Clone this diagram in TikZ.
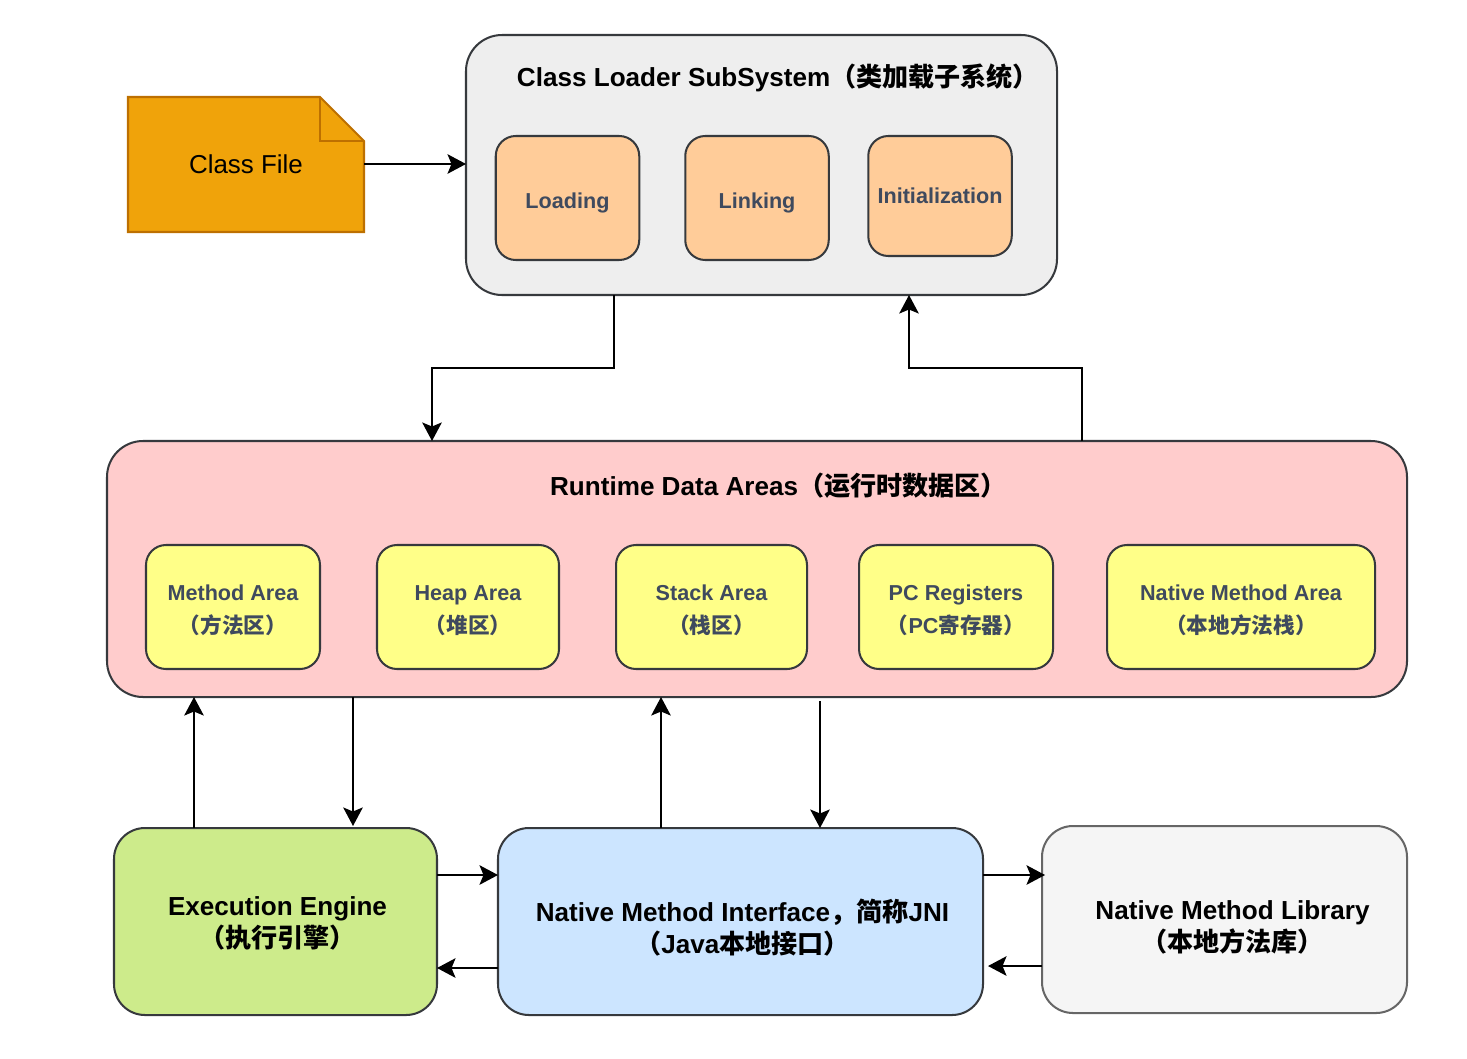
\documentclass[tikz,border=0pt]{standalone}
\usepackage{fontspec}
\setmainfont{Liberation Sans}
\newfontfamily\cjk{Noto Sans CJK SC}
\newcommand{\zh}[1]{{\cjk #1}}
\newcommand{\arealines}[2]{\rule{0pt}{12.2pt}#1\\[.8pt]#2}
\usepackage{xcolor}
\definecolor{ink}{HTML}{36393D}
\definecolor{slatetext}{HTML}{3F4A5E}
\definecolor{paleash}{HTML}{EEEEEE}
\definecolor{peach}{HTML}{FFCC99}
\definecolor{amber}{HTML}{F0A30A}
\definecolor{amberedge}{HTML}{BD7000}
\definecolor{palerose}{HTML}{FFCCCC}
\definecolor{paleyellow}{HTML}{FFFF88}
\definecolor{palelime}{HTML}{CDEB8B}
\definecolor{paleblue}{HTML}{CCE5FF}
\definecolor{smoke}{HTML}{F5F5F5}
\definecolor{smokeedge}{HTML}{666666}
\usetikzlibrary{arrows.meta,calc}
\tikzset{
  >={Stealth[length=3.7mm,width=3.9mm,inset=.8mm]},
  box/.style     ={draw=ink,line width=1.15pt,outer sep=0pt,inner sep=0pt,align=center},
  outerbox/.style={box,rounded corners=.72cm},
  textdrop/.style={execute at begin node={\rule{0pt}{#1}}},
  stagebox/.style={box,fill=peach,rounded corners=.4cm,minimum height=2.48cm,
                   minimum width=2.87cm,text=slatetext,
                   font=\fontsize{12.3}{18.1}\selectfont\bfseries},
  areabox/.style ={box,fill=paleyellow,rounded corners=.4cm,minimum height=2.48cm,
                   text=slatetext,font=\fontsize{12.3}{18.1}\selectfont\bfseries},
  enginebox/.style={box,rounded corners=.62cm,minimum height=3.74cm},
  heading/.style ={inner sep=0pt,align=center,font=\fontsize{14.85}{18.1}\selectfont\bfseries},
  flow/.style    ={->,draw=black,line width=1.15pt},
}
\begin{document}
\begin{tikzpicture}
\useasboundingbox (0,0) rectangle (29.34,-21.16);
% class file
\node[minimum width=4.72cm,minimum height=2.7cm,outer sep=0pt,inner sep=0pt] (file) at (4.92,-3.29) {};
\draw[draw=amberedge,fill=amber,line width=1.15pt,line join=miter]
  (file.north west) -- ([xshift=-.88cm]file.north east) -- ([yshift=-.88cm]file.north east)
  -- (file.south east) -- (file.south west) -- cycle;
\draw[draw=amberedge,line width=1.15pt]
  ([xshift=-.88cm]file.north east) |- ([yshift=-.88cm]file.north east);
\node[inner sep=0pt,font=\fontsize{14.75}{18.1}\selectfont] (filetext) at (file.center) {Class File};
% class loader
\node[outerbox,fill=paleash,minimum width=11.82cm,minimum height=5.2cm] (cls) at (15.23,-3.30) {};
\node[heading] (clstitle) at (15.56,-1.55) {Class Loader SubSystem\zh{（类加载子系统）}};
\node[stagebox,textdrop=14.7pt] (loading) at (11.35,-3.96) {Loading};
\node[stagebox,textdrop=14.7pt] (linking) at (15.14,-3.96) {Linking};
\node[stagebox,minimum height=2.4cm] (init) at (18.80,-3.92) {Initialization};
% runtime data areas
\node[outerbox,fill=palerose,minimum width=26cm,minimum height=5.12cm] (rda) at (15.14,-11.38) {};
\node[heading] (rdatitle) at (15.57,-9.72) {Runtime Data Areas\zh{（运行时数据区）}};
\node[areabox,minimum width=3.48cm] (method) at (4.66,-12.14) {\arealines{Method Area}{\zh{（方法区）}}};
\node[areabox,minimum width=3.64cm] (heap) at (9.36,-12.14) {\arealines{Heap Area}{\zh{（堆区）}}};
\node[areabox,minimum width=3.82cm] (stack) at (14.23,-12.14) {\arealines{Stack Area}{\zh{（栈区）}}};
\node[areabox,minimum width=3.88cm] (pc) at (19.12,-12.14) {\arealines{PC Registers}{\zh{（}PC\zh{寄存器）}}};
\node[areabox,minimum width=5.36cm] (nativearea) at (24.82,-12.14) {\arealines{Native Method Area}{\zh{（本地方法栈）}}};
% bottom row
\node[enginebox,fill=palelime,minimum width=6.46cm] (exec) at (5.51,-18.43) {};
\node[enginebox,fill=paleblue,minimum width=9.7cm] (nmi) at (14.81,-18.43) {};
\node[enginebox,draw=smokeedge,fill=smoke,minimum width=7.3cm] (nml) at (24.49,-18.39) {};
\node[heading] (exectext) at (5.55,-18.46) {Execution Engine\\\zh{（执行引擎）}};
\node[heading] (nmitext) at (14.85,-18.55) {Native Method Interface\zh{，简称}JNI\\\zh{（}Java\zh{本地接口）}};
\node[heading] (nmltext) at (24.65,-18.55) {Native Method Library\\\zh{（本地方法库）}};
% arrows
\draw[flow] ([yshift=.01cm]file.east) -- ([yshift=.01cm]file.east -| cls.west);
\draw[flow] ([xshift=-2.95cm]cls.south) -- ++(0,-1.46) -| ([xshift=-6.5cm]rda.north);
\draw[flow] ([xshift=6.5cm]rda.north) -- ++(0,1.46) -| ([xshift=2.95cm]cls.south);
\draw[flow] ([xshift=-1.63cm]exec.north) -- ([xshift=-1.63cm]exec.north |- rda.south);
\draw[flow] ([xshift=1.55cm]exec.north |- rda.south) -- ([xshift=1.55cm,yshift=.04cm]exec.north);
\draw[flow] ([xshift=-1.59cm]nmi.north) -- ([xshift=-1.59cm]nmi.north |- rda.south);
\draw[flow] ([xshift=1.59cm,yshift=-.08cm]nmi.north |- rda.south) -- ([xshift=1.59cm]nmi.north);
\draw[flow] ([yshift=.93cm]exec.east) -- ([yshift=.93cm]nmi.west);
\draw[flow] ([yshift=-.93cm]nmi.west) -- ([yshift=-.93cm]exec.east);
\draw[flow] ([yshift=.93cm]nmi.east) -- ([xshift=.06cm,yshift=.93cm]nmi.east -| nml.west);
\draw[flow] ([yshift=-.93cm]nml.west) -- ([xshift=.1cm,yshift=-.93cm]nmi.east |- nml.west);
\end{tikzpicture}
\end{document}
